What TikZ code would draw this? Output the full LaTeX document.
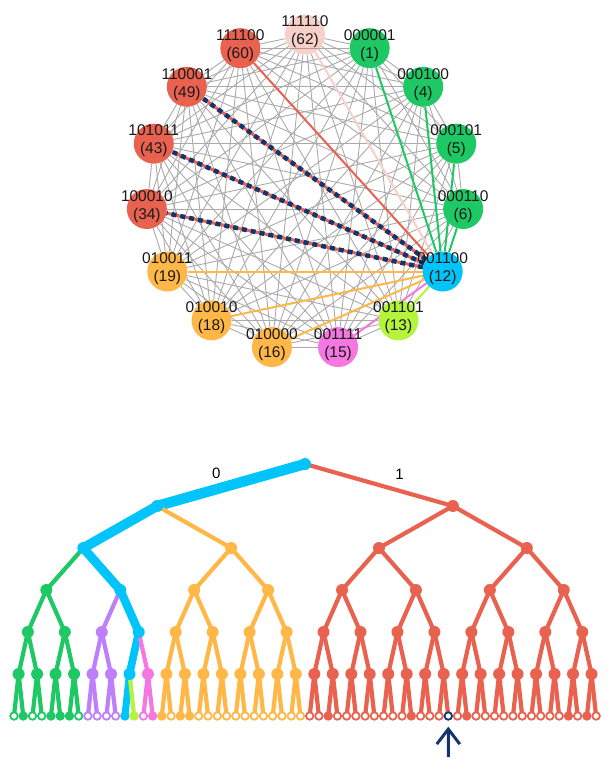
\documentclass[tikz,border=0pt]{standalone}
\usepackage{fontspec}
\setmainfont{Liberation Sans}
\usetikzlibrary{arrows.meta,backgrounds}

\definecolor{grn}{RGB}{30,200,100}
\definecolor{rd}{RGB}{233,98,80}
\definecolor{orng}{RGB}{255,183,72}
\definecolor{cyn}{RGB}{0,196,250}
\definecolor{lme}{RGB}{180,245,60}
\definecolor{pnk}{RGB}{245,120,225}
\definecolor{prpl}{RGB}{190,128,250}
\definecolor{nvy}{RGB}{20,52,110}
\definecolor{edgegray}{RGB}{170,170,170}

\tikzset{
  gnode/.style={circle, minimum size=40pt, inner sep=0pt},
  glabel/.style={align=center, font=\fontsize{15.5}{18}\selectfont, text=black!90, text opacity=1, inner sep=0pt, yshift=2.5pt},
  gedge/.style={draw=edgegray, line width=0.9pt},
  hedge/.style={line width=2pt},
  dashhi/.style={draw=nvy, line width=4.5pt, dash pattern=on 5pt off 4pt},
  tedge/.style={line cap=round},
  tdot/.style={circle, minimum size=12pt, inner sep=0pt},
  tleaf/.style={circle, minimum size=7.5pt, inner sep=0pt, line width=1.8pt},
  tlabel/.style={font=\fontsize{15}{18}\selectfont, inner sep=0pt},
  pointer/.style={draw=nvy, line width=3pt, -{Straight Barb[length=15pt,width=23pt]}},
}

% 0 hollow, 1 filled, 2 marked
\def\leafmask{{0,1,0,0,1,1,1,0, 0,0,0,0,1,1,0,1, 1,0,1,1,0,0,0,0, 0,0,0,0,0,0,0,0,
  0,0,1,0,0,0,0,0, 0,0,0,1,0,0,0,2, 0,1,0,0,0,0,0,0, 0,0,0,0,1,0,1,0}}
\def\gnums{62,1,4,5,6,12,13,15,16,18,19,34,43,49,60}

\begin{document}
\begin{tikzpicture}[x=1pt,y=1pt]
\useasboundingbox (0,0) rectangle (614,-783);

% the ring of states
\foreach \num/\bits/\col/\op [count=\k] in {62/111110/rd/0.3, 1/000001/grn/1, 4/000100/grn/1,
    5/000101/grn/1, 6/000110/grn/1, 12/001100/cyn/1, 13/001101/lme/1, 15/001111/pnk/1,
    16/010000/orng/1, 18/010010/orng/1, 19/010011/orng/1, 34/100010/rd/1, 43/101011/rd/1,
    49/110001/rd/1, 60/111100/rd/1}
  \node[gnode, fill=\col, fill opacity=\op, label={[glabel]center:{\bits\\(\num)}}] (n\num)
    at ({305+159*cos(114-24*\k)},{-192.5+158*sin(114-24*\k)}) {};

\begin{scope}[on background layer]
  \foreach \a [count=\i] in \gnums {
    \foreach \b [count=\j] in \gnums {
      \ifnum\j>\i \draw[gedge] (n\a) -- (n\b); \fi
    }
  }
  \foreach \num/\col in {1/grn,4/grn,5/grn,6/grn,60/rd,13/lme,15/pnk,16/orng,18/orng,19/orng}
    \draw[hedge, draw=\col] (n12) -- (n\num);
  \draw[hedge, draw=rd!30] (n12) -- (n62);
  \foreach \num in {34,43,49} {
    \draw[hedge, draw=rd, line width=3pt] (n12) -- (n\num);
    \draw[dashhi] (n12) -- (n\num);
  }
\end{scope}

% the tree
\node[tdot, fill=cyn] (t0-0) at (305,-464) {};
\foreach \lev in {1,...,6} {
  \pgfmathtruncatemacro\sz{2^(6-\lev)}
  \pgfmathtruncatemacro\cnt{2^\lev-1}
  \pgfmathtruncatemacro\plev{\lev-1}
  \foreach \k in {0,...,\cnt} {
    \pgfmathtruncatemacro\leafa{\k*\sz}
    \pgfmathtruncatemacro\leafb{\leafa+\sz-1}
    \pgfmathtruncatemacro\pk{div(\k,2)}
    \pgfmathsetmacro\xx{14+4.62*(\leafa+\leafb)}
    \pgfmathsetmacro\yy{-716+42*(6-\lev)}
    \def\tw{4.2}
    \ifnum\leafa>31 \def\tcol{rd}\else
    \ifnum\leafa>15 \def\tcol{orng}\else
    \ifnum\leafb<8 \def\tcol{grn}\else
    \ifnum\leafb<12 \def\tcol{prpl}\else
    \ifnum\leafa>13 \def\tcol{pnk}\else
    \ifnum\leafa=13 \def\tcol{lme}\else
      \def\tcol{cyn}\pgfmathsetmacro\tw{11.2-0.7*\lev}%
    \fi\fi\fi\fi\fi\fi
    \ifnum\lev=6
      \pgfmathtruncatemacro\fl{\leafmask[\k]}
      \ifcase\fl
        \node[tleaf, draw=\tcol, fill=white] (t\lev-\k) at (\xx,\yy) {};
      \or
        \node[tleaf, draw=\tcol, fill=\tcol] (t\lev-\k) at (\xx,\yy) {};
      \or
        \node[tleaf, draw=nvy, fill=white] (t\lev-\k) at (\xx,\yy) {};
      \fi
    \else
      \node[tdot, fill=\tcol] (t\lev-\k) at (\xx,\yy) {};
    \fi
    \begin{scope}[on background layer]
      \draw[tedge, draw=\tcol, line width=\tw pt] (t\plev-\pk.center) -- (t\lev-\k.center);
    \end{scope}
  }
}

\path (t0-0.center) -- (t1-0.center) node[tlabel, pos=0.6, above=10pt] (lab0) {0};
\path (t0-0.center) -- (t1-1.center) node[tlabel, pos=0.64, above=11.5pt] (lab1) {1};

\coordinate (ptail) at (448.3,-757);
\draw[pointer] (ptail) -- ([yshift=-6pt]t6-47.south);
\end{tikzpicture}
\end{document}
